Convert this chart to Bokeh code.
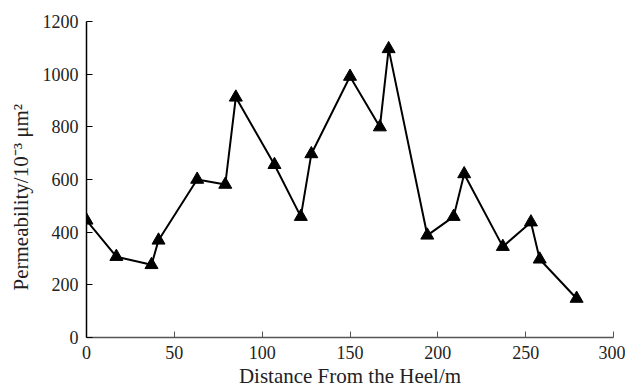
from bokeh.plotting import figure
from bokeh.embed import file_html
from bokeh.resources import INLINE
from bokeh.models import Range1d, FixedTicker, Title

distance = [0, 17, 37, 41, 63, 79, 85, 107, 122, 128, 150, 167, 172, 194, 209, 215, 237, 253, 258, 279]
permeability = [445, 307, 276, 369, 600, 581, 912, 656, 459, 697, 991, 799, 1096, 388, 459, 621, 345, 438, 297, 148]
x_ticks = [0, 50, 100, 150, 200, 250, 300]
y_ticks = [0, 200, 400, 600, 800, 1000, 1200]
x_title = "Distance From the Heel/m"
y_title = "Permeability/10⁻³ μm²"

p = figure(frame_width=527, frame_height=316, output_backend="svg", toolbar_location=None,
           x_range=Range1d(0, 300), y_range=Range1d(0, 1200),
           min_border_left=86, min_border_right=12, min_border_top=21, min_border_bottom=50)
p.outline_line_color = None
p.xgrid.visible = False
p.ygrid.visible = False

p.line(distance, permeability, line_color="black", line_width=2)
p.scatter(distance, permeability, marker="triangle", size=13, fill_color="black", line_color="black")

font = "Liberation Serif"
for ax, ticks in ((p.xaxis[0], x_ticks), (p.yaxis[0], y_ticks)):
    ax.ticker = FixedTicker(ticks=ticks)
    ax.minor_tick_line_color = None
    ax.major_tick_in = 6
    ax.major_tick_out = 0
    ax.major_label_text_font = font
    ax.major_label_text_font_size = "18px"
    ax.major_label_text_color = "#222222"
    ax.axis_label_text_font = font
    ax.axis_label_text_font_size = "21px"
    ax.axis_label_text_font_style = "normal"
    ax.axis_label_text_color = "#222222"
    ax.major_label_standoff = 8

p.xaxis.axis_label = x_title
p.xaxis.axis_line_color = "#555555"
p.xaxis.major_tick_line_color = "#555555"
p.xaxis.axis_line_width = 1.5
p.yaxis.axis_line_color = "black"
p.yaxis.axis_line_width = 1.5
p.xaxis.axis_label_standoff = 2

ytitle = Title(text=y_title, align="left", offset=47, text_font=font,
               text_font_size="21px", text_font_style="normal", text_color="#222222",
               standoff=13)
p.add_layout(ytitle, "left")

open("out.html", "w").write(file_html(p, INLINE))
